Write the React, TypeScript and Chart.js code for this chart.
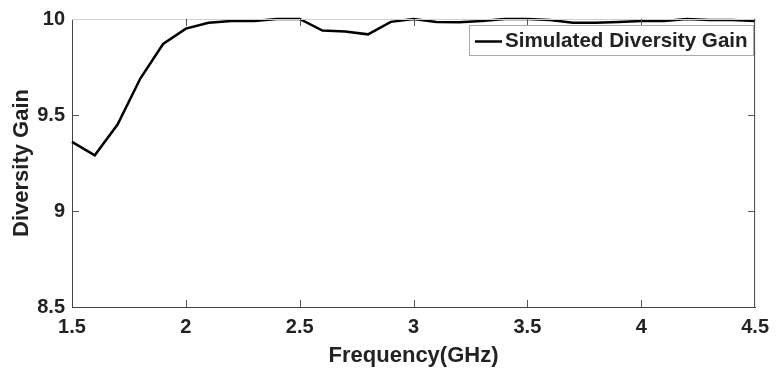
import React, { useEffect, useRef } from "react";
import { Chart, registerables } from "chart.js";

Chart.register(...registerables);

const freq = [1.5, 1.6, 1.7, 1.8, 1.9, 2.0, 2.1, 2.2, 2.3, 2.4, 2.5, 2.6, 2.7, 2.8, 2.9, 3.0, 3.1, 3.2, 3.3, 3.4, 3.5, 3.6, 3.7, 3.8, 3.9, 4.0, 4.1, 4.2, 4.3, 4.4, 4.5];
const gain = [9.36, 9.29, 9.45, 9.69, 9.87, 9.95, 9.98, 9.99, 9.99, 10.0, 10.0, 9.94, 9.935, 9.92, 9.985, 10.0, 9.985, 9.983, 9.99, 10.0, 10.0, 9.995, 9.98, 9.98, 9.985, 9.99, 9.99, 10.0, 9.995, 9.995, 9.99];
const xTicks = [1.5, 2, 2.5, 3, 3.5, 4, 4.5];
const yTicks = [8.5, 9, 9.5, 10];
const seriesLabel = "Simulated Diversity Gain";
const xTitle = "Frequency(GHz)";
const yTitle = "Diversity Gain";

const FONT = "'Liberation Sans', Arial, sans-serif";
const TEXT = "#222222";

const boxPlugin = {
  id: "boxTicks",
  afterDraw(chart: any) {
    const { ctx, chartArea } = chart;
    const { left, right, top, bottom } = chartArea;
    const xs = chart.scales.x;
    const ys = chart.scales.y;
    ctx.save();
    // top and right borders
    ctx.lineWidth = 1;
    ctx.strokeStyle = "#d0d0d0";
    ctx.beginPath();
    ctx.moveTo(left, top + 0.5);
    ctx.lineTo(right, top + 0.5);
    ctx.stroke();
    ctx.strokeStyle = "#444444";
    ctx.beginPath();
    ctx.moveTo(right - 0.5, top);
    ctx.lineTo(right - 0.5, bottom);
    ctx.stroke();
    // inward ticks
    const tl = 7;
    ctx.strokeStyle = "#555555";
    ctx.beginPath();
    xTicks.forEach((v) => {
      const px = Math.round(xs.getPixelForValue(v)) + 0.5;
      if (v !== xTicks[0] && v !== xTicks[xTicks.length - 1]) {
        ctx.moveTo(px, bottom);
        ctx.lineTo(px, bottom - tl);
        ctx.moveTo(px, top);
        ctx.lineTo(px, top + tl);
      }
    });
    yTicks.forEach((v) => {
      const py = Math.round(ys.getPixelForValue(v)) + 0.5;
      if (v !== yTicks[0] && v !== yTicks[yTicks.length - 1]) {
        ctx.moveTo(left, py);
        ctx.lineTo(left + tl, py);
        ctx.moveTo(right, py);
        ctx.lineTo(right - tl, py);
      }
    });
    ctx.stroke();

    // legend
    const lx = 469, ly = 25.5, lw = 284, lh = 30;
    ctx.fillStyle = "#ffffff";
    ctx.fillRect(lx, ly, lw, lh);
    ctx.strokeStyle = "#aaaaaa";
    ctx.lineWidth = 1;
    ctx.strokeRect(lx + 0.5, ly, lw, lh);
    ctx.strokeStyle = "#000000";
    ctx.lineWidth = 2.5;
    ctx.beginPath();
    ctx.moveTo(475, ly + lh / 2 + 1);
    ctx.lineTo(502, ly + lh / 2 + 1);
    ctx.stroke();
    ctx.fillStyle = TEXT;
    ctx.font = `bold 20.6px ${FONT}`;
    ctx.textBaseline = "middle";
    ctx.textAlign = "left";
    ctx.fillText(chart.data.datasets[0].label, 505, ly + lh / 2 + 1);
    ctx.restore();
  },
};

export default function App() {
  const canvasRef = useRef<HTMLCanvasElement | null>(null);

  useEffect(() => {
    if (!canvasRef.current) return;
    const chart = new Chart(canvasRef.current, {
      type: "line",
      data: {
        datasets: [
          {
            label: seriesLabel,
            data: freq.map((f, i) => ({ x: f, y: gain[i] })),
            borderColor: "#000000",
            borderWidth: 2.5,
            pointRadius: 0,
            tension: 0,
            fill: false,
            clip: 3,
          },
        ],
      },
      options: {
        animation: false,
        responsive: false,
        maintainAspectRatio: false,
        layout: { padding: { top: 17, right: 16, left: 0, bottom: 0 } },
        plugins: {
          legend: { display: false },
          tooltip: { enabled: false },
        },
        scales: {
          x: {
            type: "linear",
            min: 1.5,
            max: 4.5,
            afterBuildTicks: (axis: any) => {
              axis.ticks = xTicks.map((v) => ({ value: v }));
            },
            afterFit: (axis: any) => {
              axis.height = 65;
            },
            ticks: {
              padding: 8,
              color: TEXT,
              font: { family: FONT, size: 20, weight: "bold" },
              maxRotation: 0,
              callback: (v: any) => String(v),
            },
            grid: { display: false, drawTicks: false },
            border: { display: true, color: "#444444", width: 1 },
            title: {
              display: true,
              text: xTitle,
              color: TEXT,
              font: { family: FONT, size: 22, weight: "bold" },
              padding: { top: 0, bottom: 3 },
            },
          },
          y: {
            type: "linear",
            min: 8.5,
            max: 10,
            afterBuildTicks: (axis: any) => {
              axis.ticks = yTicks.map((v) => ({ value: v }));
            },
            afterFit: (axis: any) => {
              axis.width = 72;
            },
            ticks: {
              padding: 7,
              color: TEXT,
              font: { family: FONT, size: 20, weight: "bold" },
              callback: (v: any) => String(v),
            },
            grid: { display: false, drawTicks: false },
            border: { display: true, color: "#444444", width: 1 },
            title: {
              display: true,
              text: yTitle,
              color: TEXT,
              font: { family: FONT, size: 22, weight: "bold" },
              padding: { top: 9, bottom: 0 },
            },
          },
        },
      },
      plugins: [boxPlugin],
    });
    return () => chart.destroy();
  }, []);

  return (
    <div style={{ position: "fixed", left: 0, top: 0, width: 777, height: 372, background: "#ffffff" }}>
      <canvas ref={canvasRef} width={777} height={372} style={{ width: 777, height: 372, display: "block" }} />
    </div>
  );
}
